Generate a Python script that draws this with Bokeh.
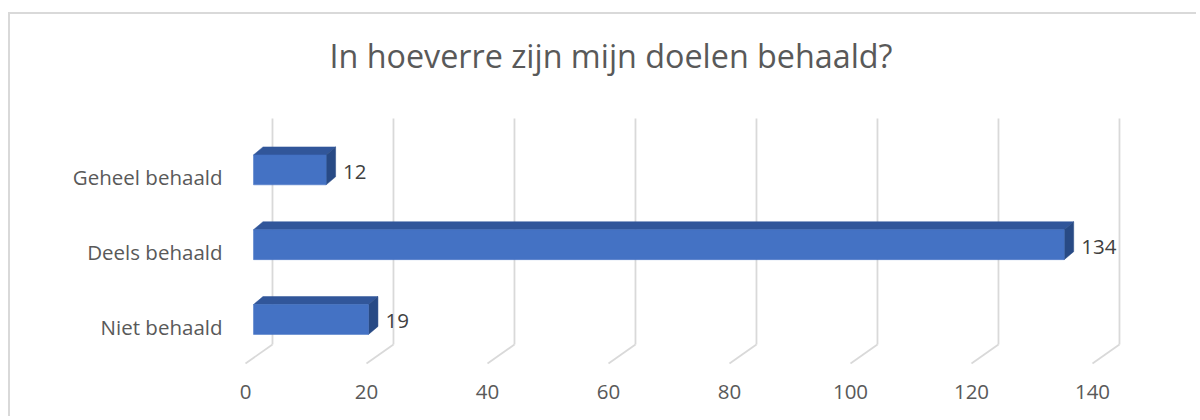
from bokeh.plotting import figure
from bokeh.models import Range1d, LinearAxis, FixedTicker, ColumnDataSource
from bokeh.core.properties import value
from bokeh.embed import file_html
from bokeh.resources import INLINE

# ---- data ----
categories = ["Niet behaald", "Deels behaald", "Geheel behaald"]
counts = [19, 134, 12]
x_ticks = [0, 20, 40, 60, 80, 100, 120, 140]
title_text = "In hoeverre zijn mijn doelen behaald?"

# ---- styling / geometry constants ----
FONT = "Open Sans"
FRONT = "#4472C4"
TOP = "#31569A"
SIDE = "#284A85"
GRID = "#D9D9D9"
TXT = "#595959"

X0, X1 = -2.975, 156.2           # frame x range (data units)
Y0, Y1 = -0.6818, 3.997          # frame y range (category units)
BAR_H = 0.2                       # half bar height
BDX, BDY = 1.57, 0.107            # bar depth offset
GRID_FRONT = -1.322               # front offset of the floor
GRID_DX = 4.46                    # floor depth in x
GRID_BOT_BACK, GRID_BOT_FRONT, GRID_TOP = -0.334, -0.588, 2.687
LABEL_DY = 0.1

p = figure(width=1188, height=404, output_backend="svg", toolbar_location=None,
           x_axis_location=None, y_axis_location=None,
           x_range=Range1d(X0, X1), y_range=Range1d(Y0, Y1),
           min_border_left=225, min_border_right=0,
           min_border_top=6, min_border_bottom=48)
p.grid.visible = False
p.outline_line_color = None
p.background_fill_color = "white"
p.border_fill_color = "white"
p.styles = {"border-top": "2px solid #D9D9D9", "border-left": "2px solid #D9D9D9",
            "margin-top": "12px", "margin-left": "8px"}

# ---- 3D floor gridlines ----
gx_back, gy_back, gx_diag, gy_diag = [], [], [], []
for t in x_ticks:
    front = t + GRID_FRONT
    back = front + GRID_DX
    gx_back.append([back, back])
    gy_back.append([GRID_BOT_BACK, GRID_TOP])
    gx_diag.append([back, front])
    gy_diag.append([GRID_BOT_BACK, GRID_BOT_FRONT])
p.multi_line(gx_back, gy_back, line_color=GRID, line_width=1.8)
p.multi_line(gx_diag, gy_diag, line_color=GRID, line_width=1.8)

# ---- 3D bars ----
ypos = list(range(len(categories)))
src = ColumnDataSource(dict(y=ypos, v=counts, lbl=[str(c) for c in counts]))
top_xs, top_ys, side_xs, side_ys = [], [], [], []
for y, v in zip(ypos, counts):
    top_xs.append([0, v, v + BDX, BDX])
    top_ys.append([y + BAR_H, y + BAR_H, y + BAR_H + BDY, y + BAR_H + BDY])
    side_xs.append([v, v, v + BDX, v + BDX])
    side_ys.append([y - BAR_H, y + BAR_H, y + BAR_H + BDY, y - BAR_H + BDY])
p.patches(top_xs, top_ys, fill_color=TOP, line_color=TOP, line_width=0.5)
p.patches(side_xs, side_ys, fill_color=SIDE, line_color=SIDE, line_width=0.5)
p.hbar(y="y", left=0, right="v", height=2 * BAR_H, source=src,
       fill_color=FRONT, line_color=FRONT, line_width=0.5)

# data labels
p.text(x="v", y="y", text="lbl", source=src, x_offset=17, y_offset=2,
       text_align="left", text_baseline="alphabetic",
       text_font=value(FONT), text_font_size="20.5px", text_color="#404040")

# title
p.text(x=[59.09], y=[3.53], text=[title_text], text_align="center",
       text_baseline="alphabetic", text_font=value(FONT),
       text_font_size="32.3px", text_color=TXT)

# ---- axes ----
p.extra_x_ranges = {"front": Range1d(X0 - GRID_FRONT, X1 - GRID_FRONT)}
p.extra_y_ranges = {"cat": Range1d(Y0 + LABEL_DY, Y1 + LABEL_DY)}

xaxis = LinearAxis(x_range_name="front", ticker=FixedTicker(ticks=x_ticks))
yaxis = LinearAxis(y_range_name="cat", ticker=FixedTicker(ticks=ypos),
                   major_label_overrides={i: c for i, c in enumerate(categories)})
for ax in (xaxis, yaxis):
    ax.axis_line_color = None
    ax.major_tick_line_color = None
    ax.minor_tick_line_color = None
    ax.major_tick_out = 0
    ax.major_tick_in = 0
    ax.minor_tick_out = 0
    ax.minor_tick_in = 0
    ax.major_label_text_font = FONT
    ax.major_label_text_font_size = "20.5px"
    ax.major_label_text_color = TXT
xaxis.major_label_standoff = 14
yaxis.major_label_standoff = 13
p.add_layout(xaxis, "below")
p.add_layout(yaxis, "left")

open("out.html", "w").write(file_html(p, INLINE))
